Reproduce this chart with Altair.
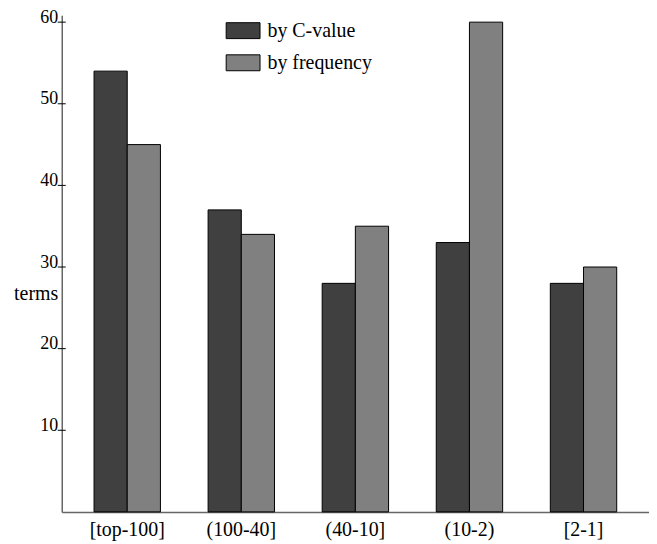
import altair as alt
import pandas as pd

categories = ["[top-100]", "(100-40]", "(40-10]", "(10-2)", "[2-1]"]
series = ["by C-value", "by frequency"]
c_value = [54, 37, 28, 33, 28]
frequency = [45, 34, 35, 60, 30]
y_ticks = [10, 20, 30, 40, 50, 60]
colors = ["#404040", "#808080"]

rows = []
for c, a, b in zip(categories, c_value, frequency):
    rows.append({"range": c, "series": series[0], "terms": a})
    rows.append({"range": c, "series": series[1], "terms": b})
df = pd.DataFrame(rows)
ticks_df = pd.DataFrame({"terms": y_ticks})

FONT = "Liberation Serif"
ydom = [0, 60.85]

y_axis = alt.Axis(
    values=y_ticks, ticks=False, grid=False, domainColor="#666", domainWidth=1.5,
    labelFontSize=18, labelFont=FONT, labelColor="black", labelBaseline="alphabetic",
    labelAlign="right", labelPadding=4, labelFlush=False, labelOverlap=False,
    title="terms", titleAngle=0, titleX=-4, titleY=286, titleAlign="right",
    titleBaseline="alphabetic", titleFontWeight="normal", titleFontSize=20,
    titleFont=FONT, titleColor="black",
)
y_scale = alt.Scale(domain=ydom, nice=False, zero=True)

bars = alt.Chart(df).mark_bar(stroke="black", strokeWidth=1).encode(
    x=alt.X(
        "range:N",
        sort=categories,
        scale=alt.Scale(paddingInner=0.418, paddingOuter=0.283),
        axis=alt.Axis(
            title=None, labelAngle=0, ticks=False, domainColor="#666", domainWidth=1.5,
            labelFontSize=20, labelFont=FONT, labelPadding=8, labelColor="black",
        ),
    ),
    xOffset=alt.XOffset("series:N", sort=series, scale=alt.Scale(paddingInner=0, paddingOuter=0)),
    y=alt.Y("terms:Q", scale=y_scale, axis=y_axis),
    color=alt.Color(
        "series:N",
        scale=alt.Scale(domain=series, range=colors),
        legend=alt.Legend(
            title=None, orient="none", legendX=172.2, legendY=5.5,
            symbolType="M-2,-0.94H2V0.94H-2Z", symbolSize=289,
            symbolStrokeColor="black", symbolStrokeWidth=1, symbolOpacity=1,
            labelFontSize=20, labelFont=FONT, labelColor="black", labelOffset=14.5,
            rowPadding=12.3, padding=0,
        ),
    ),
)

tick_marks = alt.Chart(ticks_df).mark_rule(color="black", strokeWidth=1).encode(
    y=alt.Y("terms:Q", scale=y_scale, axis=y_axis),
    x=alt.value(-4),
    x2=alt.value(4),
)

chart = alt.layer(bars, tick_marks).properties(
    width=590,
    height=499,
    autosize=alt.AutoSizeParams(type="none"),
    padding={"left": 54, "top": 6, "right": 0, "bottom": 28},
    background="white",
).configure_view(stroke=None)

chart.save("out.html", embed_options={"renderer": "svg", "actions": False})
